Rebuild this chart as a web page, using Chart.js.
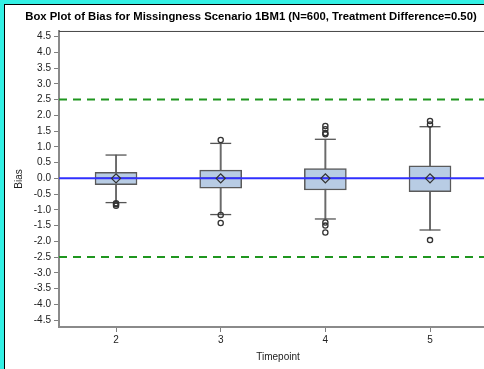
<!DOCTYPE html>
<html>
<head>
<meta charset="utf-8">
<script src="https://cdn.jsdelivr.net/npm/chart.js@4.4.1/dist/chart.umd.min.js"></script>
<style>
  html, body { margin: 0; padding: 0; overflow: hidden; }
  body { background: #33f0e4; width: 484px; height: 369px; }
  #panel { position: absolute; left: 4px; top: 4px; width: 510px; height: 380px;
    background: #fff; border-left: 1px solid #000; border-top: 1px solid #000; }
  canvas { display: block; }
</style>
</head>
<body>
<div id="panel"><canvas id="chart" width="502" height="364"></canvas></div>
<script>
// box plot summary per timepoint
const timepoints = [2, 3, 4, 5];
const q1 = [-0.20, -0.31, -0.37, -0.42];
const median = [0.0, 0.0, 0.0, 0.0];
const q3 = [0.19, 0.26, 0.31, 0.40];
const mean = [0.0, 0.0, 0.0, 0.0];
const whiskerLow = [-0.77, -1.15, -1.29, -1.64];
const whiskerHigh = [0.74, 1.11, 1.24, 1.64];
const outliers = [
  [-0.79, -0.82, -0.87],
  [1.22, -1.16, -1.42],
  [1.40, 1.44, 1.56, 1.66, -1.40, -1.50, -1.72],
  [1.71, 1.82, -1.96]
];
const refZero = 0;
const refBounds = [2.5, -2.5];

const yTicks = [-4.5, -4.0, -3.5, -3.0, -2.5, -2.0, -1.5, -1.0, -0.5, 0.0,
  0.5, 1.0, 1.5, 2.0, 2.5, 3.0, 3.5, 4.0, 4.5];
const xTicks = [2, 3, 4, 5];
const xMin = 1.455, xMax = 5.64;

const boxData = timepoints.map((t, i) => ({ x: t, y: [q1[i], q3[i]] }));
const whiskerData = timepoints.map((t, i) => ({ x: t, y: [whiskerLow[i], whiskerHigh[i]] }));
const capData = [];
timepoints.forEach((t, i) => {
  capData.push({ x: t, y: whiskerLow[i] });
  capData.push({ x: t, y: whiskerHigh[i] });
});
const medianData = timepoints.map((t, i) => ({ x: t, y: median[i] }));
const meanData = timepoints.map((t, i) => ({ x: t, y: mean[i] }));
const outlierData = [];
timepoints.forEach((t, i) => {
  outliers[i].forEach(v => outlierData.push({ x: t, y: v }));
});

function hline(v) {
  return [{ x: xMin, y: v }, { x: xMax, y: v }];
}

// dark line along the top of the plot frame
const topFrame = {
  id: 'topFrame',
  afterDraw(chart) {
    const a = chart.chartArea;
    const ctx = chart.ctx;
    ctx.save();
    ctx.strokeStyle = '#444';
    ctx.lineWidth = 1;
    ctx.beginPath();
    ctx.moveTo(a.left, a.top + 0.5);
    ctx.lineTo(a.right, a.top + 0.5);
    ctx.stroke();
    ctx.restore();
  }
};

Chart.defaults.font.family = '"Liberation Sans", Arial, sans-serif';
Chart.defaults.color = '#222';

new Chart(document.getElementById('chart'), {
  type: 'bar',
  data: {
    datasets: [
      {
        label: 'whisker',
        data: whiskerData,
        backgroundColor: '#6a6a6a',
        borderWidth: 0,
        barThickness: 1.3,
        grouped: false,
        order: 7
      },
      {
        label: 'box',
        data: boxData,
        backgroundColor: '#b8cce4',
        borderColor: '#5a5a5a',
        borderWidth: 1.5,
        borderSkipped: false,
        barThickness: 42,
        grouped: false,
        order: 6
      },
      {
        type: 'scatter',
        label: 'caps',
        data: capData,
        pointStyle: 'line',
        pointRadius: 10.5,
        borderColor: '#555',
        borderWidth: 1.3,
        order: 5
      },
      {
        type: 'scatter',
        label: 'median',
        data: medianData,
        pointStyle: 'line',
        pointRadius: 21,
        borderColor: '#5a5a5a',
        borderWidth: 1.5,
        order: 4
      },
      {
        type: 'line',
        label: 'zero',
        data: hline(refZero),
        borderColor: '#3030ff',
        borderWidth: 2,
        pointRadius: 0,
        order: 3
      },
      {
        type: 'line',
        label: 'upper',
        data: hline(refBounds[0]),
        borderColor: '#1f961f',
        borderWidth: 2,
        borderDash: [8, 6],
        pointRadius: 0,
        order: 3
      },
      {
        type: 'line',
        label: 'lower',
        data: hline(refBounds[1]),
        borderColor: '#1f961f',
        borderWidth: 2,
        borderDash: [8, 6],
        pointRadius: 0,
        order: 3
      },
      {
        type: 'scatter',
        label: 'mean',
        data: meanData,
        pointStyle: 'rectRot',
        pointRadius: 4.5,
        backgroundColor: 'rgba(0,0,0,0)',
        borderColor: '#333',
        borderWidth: 1.3,
        order: 2
      },
      {
        type: 'scatter',
        label: 'outliers',
        data: outlierData,
        pointStyle: 'circle',
        pointRadius: 2.6,
        backgroundColor: 'rgba(0,0,0,0)',
        borderColor: '#333',
        borderWidth: 1.3,
        order: 1
      }
    ]
  },
  options: {
    responsive: false,
    animation: false,
    devicePixelRatio: 1,
    layout: { autoPadding: false, padding: { top: 0, right: 10, bottom: 0, left: 0 } },
    plugins: {
      legend: { display: false },
      tooltip: { enabled: false },
      title: {
        display: true,
        text: 'Box Plot of Bias for Missingness Scenario 1BM1 (N=600, Treatment Difference=0.50)',
        color: '#000',
        font: { size: 11.3, weight: 'bold' },
        padding: { top: 5.3, bottom: 7.1 }
      }
    },
    scales: {
      x: {
        type: 'linear',
        min: xMin,
        max: xMax,
        offset: false,
        afterBuildTicks: s => { s.ticks = xTicks.map(v => ({ value: v })); },
        afterFit: s => { s.height = 42; },
        ticks: { font: { size: 10 }, padding: 2, callback: v => String(v) },
        grid: { drawOnChartArea: false, offset: false, tickLength: 5, color: '#7f7f7f' },
        border: { color: '#8a8a8a', width: 2 },
        title: { display: true, text: 'Timepoint', font: { size: 10 }, padding: { top: 0, bottom: 6 } }
      },
      y: {
        type: 'linear',
        min: -4.72,
        max: 4.68,
        afterBuildTicks: s => { s.ticks = yTicks.map(v => ({ value: v })); },
        afterFit: s => { s.width = 54; },
        ticks: { font: { size: 10 }, padding: 3, callback: v => v.toFixed(1) },
        grid: { drawOnChartArea: false, tickLength: 5, color: '#7f7f7f' },
        border: { color: '#8a8a8a', width: 2 },
        title: { display: true, text: 'Bias', font: { size: 10 }, padding: { top: 8, bottom: 0 } }
      }
    }
  },
  plugins: [topFrame]
});
</script>
</body>
</html>
